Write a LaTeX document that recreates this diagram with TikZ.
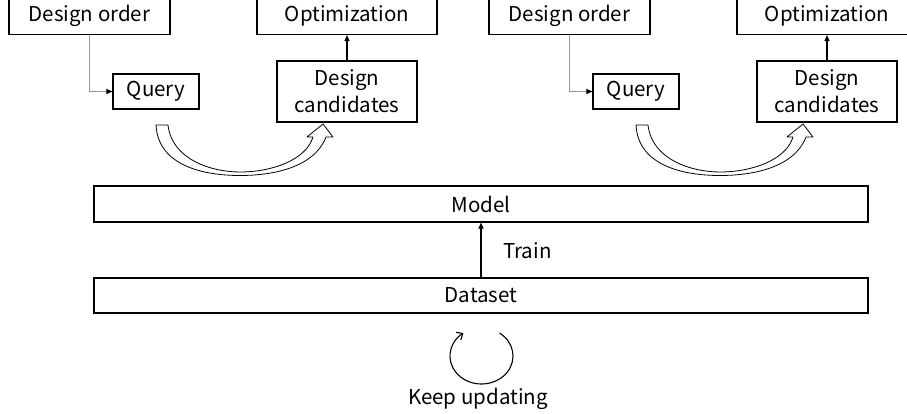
\documentclass[tikz,border=0pt]{standalone}
\usepackage{fontspec}
\setmainfont{Noto Sans CJK JP}
\usetikzlibrary{arrows.meta}

\tikzset{
  box/.style={draw=black, line width=1.1pt, rectangle, inner sep=0pt, align=center,
              font=\fontsize{20.5}{27}\selectfont},
  feed/.style={draw=black!40, line width=1pt, -{Triangle[length=6pt,width=5pt,color=black]}},
  push/.style={draw=black, line width=1.3pt, -{Triangle[length=6pt,width=5pt]}},
  hollow/.style={draw=black, line width=0.8pt, fill=white, line join=round},
  lbl/.style={inner sep=0pt, font=\fontsize{20.5}{27}\selectfont},
}

\begin{document}
\begin{tikzpicture}[x=1pt, y=-1pt]
  \useasboundingbox (0,0) rectangle (907,414);
  \clip (0,0) rectangle (907,414);

  % two identical design loops, side by side
  \foreach \s/\dx in {L/0, R/480}{
    \begin{scope}[xshift=\dx pt]
      \node[box, minimum width=161pt, minimum height=38pt] (do\s) at (89.5,15.5) {Design order};
      \node[box, minimum width=180pt, minimum height=38pt] (opt\s) at (347,15.5) {Optimization};
      \node[box, minimum width=86pt, minimum height=35pt] (q\s) at (156,91.5) {Query};
      \node[box, minimum width=140pt, minimum height=61pt] (dc\s) at (347,91.5) {Design\\candidates};
      \draw[feed] (do\s.south) |- (q\s.west);
      \draw[push] (dc\s.north) -- (opt\s.south);
      % hollow curved arrow from the query to the candidates
      \draw[hollow] (156,125) -- (168,125)
        .. controls (172,160) and (212,172) .. (240,172)
        .. controls (272,172) and (306,160) .. (313,137)
        -- (307,137) -- (323,124) -- (333,137) -- (326,137)
        .. controls (314,168) and (272,175.5) .. (240,175.5)
        .. controls (204,175.5) and (158,166) .. (156,125) -- cycle;
    \end{scope}
  }

  \node[box, minimum width=774pt, minimum height=36pt] (model) at (481,204) {Model};
  \node[box, minimum width=774pt, minimum height=35pt] (data) at (481,295.5) {Dataset};
  \draw[push, line width=1.1pt] (data.north) -- (model.south);
  \node[lbl, anchor=west] (train) at (503,251) {Train};

  % update cycle below the dataset
  \coordinate (cyc) at (481.5,356);
  \draw[line width=1.1pt, -{Straight Barb[length=5pt,width=9pt]}]
    ([shift={(-55:31.5 and 28)}]cyc) arc[start angle=-55, end angle=235, x radius=31.5, y radius=28];
  \node[lbl, anchor=base] (keep) at (478,404) {Keep updating};
\end{tikzpicture}
\end{document}
